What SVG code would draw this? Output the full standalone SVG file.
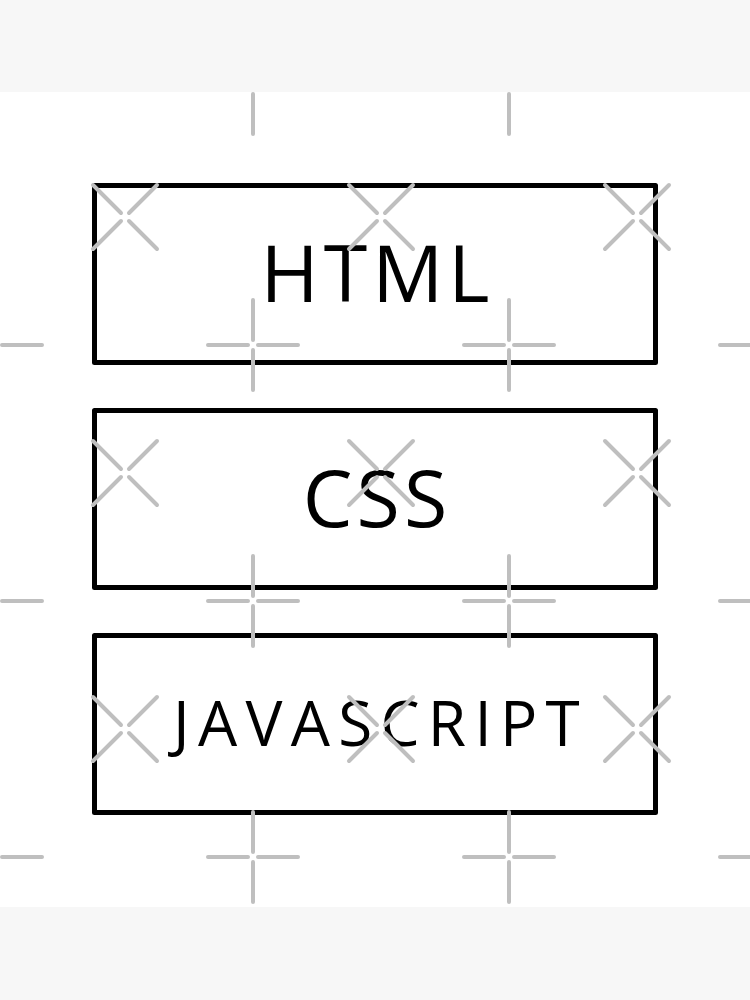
<svg xmlns="http://www.w3.org/2000/svg" width="750" height="1000" viewBox="0 0 750 1000">
  <style>
    .box { fill: none; stroke: #000; stroke-width: 5; stroke-linejoin: round; }
    .lbl { font-family: "Open Sans", "Liberation Sans", sans-serif; fill: #000; text-anchor: middle; }
    .wm { stroke: #bfbfbf; stroke-width: 4; stroke-linecap: round; fill: none; }
    .band { fill: #f7f7f7; }
  </style>
  <defs>
    <g id="plus">
      <path class="wm" d="M-45 0H-5M5 0H45M0 -45V-5M0 5V45"/>
    </g>
    <g id="cross">
      <path class="wm" d="M-32 -32L-4 -4M4 4L32 32M32 -32L4 -4M-4 4L-32 32"/>
    </g>
  </defs>
  <rect width="750" height="1000" fill="#fff"/>
  <g id="node-html">
    <rect class="box" x="94.5" y="185.5" width="561" height="177"/>
    <text class="lbl" x="377.5" y="302" font-size="79" letter-spacing="5">HTML</text>
  </g>
  <g id="node-css">
    <rect class="box" x="94.5" y="410.5" width="561" height="177"/>
    <text class="lbl" x="377" y="527" font-size="79" letter-spacing="4">CSS</text>
  </g>
  <g id="node-js">
    <rect class="box" x="94.5" y="635.5" width="561" height="177"/>
    <text class="lbl" x="380.5" y="746" font-size="62" letter-spacing="8.3">JAVASCRIPT</text>
  </g>
  <g id="connectors"></g>
  <g id="watermark">
    <use href="#plus" x="253" y="89"/><use href="#plus" x="509" y="89"/>
    <use href="#plus" x="-3" y="345"/><use href="#plus" x="253" y="345"/><use href="#plus" x="509" y="345"/><use href="#plus" x="765" y="345"/>
    <use href="#plus" x="-3" y="601"/><use href="#plus" x="253" y="601"/><use href="#plus" x="509" y="601"/><use href="#plus" x="765" y="601"/>
    <use href="#plus" x="-3" y="857"/><use href="#plus" x="253" y="857"/><use href="#plus" x="509" y="857"/><use href="#plus" x="765" y="857"/>
    <use href="#cross" x="125" y="217"/><use href="#cross" x="381" y="217"/><use href="#cross" x="637" y="217"/>
    <use href="#cross" x="125" y="473"/><use href="#cross" x="381" y="473"/><use href="#cross" x="637" y="473"/>
    <use href="#cross" x="125" y="729"/><use href="#cross" x="381" y="729"/><use href="#cross" x="637" y="729"/>
  </g>
  <rect class="band" x="0" y="0" width="750" height="92"/>
  <rect class="band" x="0" y="907" width="750" height="93"/>
</svg>
